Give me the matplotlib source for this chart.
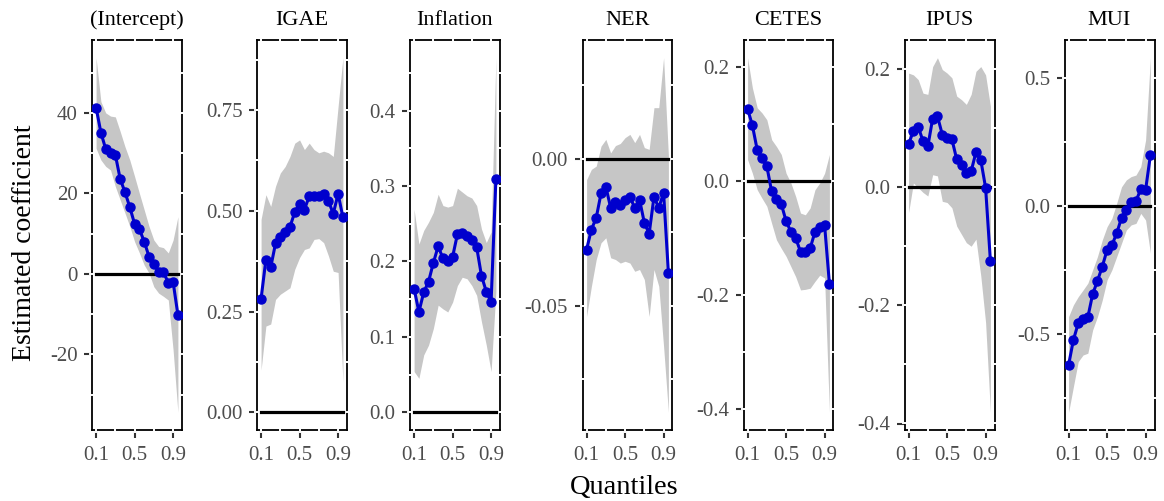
import numpy as np
import matplotlib
matplotlib.use("Agg")
import matplotlib.pyplot as plt

plt.rcParams['font.family'] = ['Liberation Serif', 'DejaVu Serif']
plt.rcParams['axes.unicode_minus'] = False

# quantiles used in every panel
taus = [0.10, 0.15, 0.20, 0.25, 0.30, 0.35, 0.40, 0.45, 0.50,
        0.55, 0.60, 0.65, 0.70, 0.75, 0.80, 0.85, 0.90, 0.95]

names = ["(Intercept)", "IGAE", "Inflation", "NER", "CETES", "IPUS", "MUI"]

# estimates, upper and lower bands
intercept_est = [41.3, 35.1, 31.0, 30.1, 29.6, 23.6, 20.3, 16.6, 12.4, 11.1, 8.0, 4.3, 2.5, 0.4, 0.4, -2.2, -2.0, -10.2]
intercept_hi = [53.7, 42.8, 40.0, 39.2, 39.0, 35.4, 31.6, 28.3, 24.2, 20.0, 15.9, 11.8, 8.4, 6.8, 6.5, 5.2, 8.4, 14.2]
intercept_lo = [31.2, 28.3, 26.7, 25.8, 21.7, 18.4, 15.1, 11.8, 8.0, 5.2, 2.2, 0.2, -3.2, -4.8, -5.6, -6.5, -18.9, -34.4]

igae_est = [0.282, 0.379, 0.360, 0.419, 0.436, 0.447, 0.460, 0.497, 0.518, 0.503, 0.536, 0.536, 0.538, 0.543, 0.524, 0.493, 0.542, 0.484]
igae_hi = [0.479, 0.540, 0.511, 0.561, 0.594, 0.610, 0.635, 0.668, 0.676, 0.652, 0.668, 0.652, 0.644, 0.648, 0.644, 0.635, 0.759, 0.880]
igae_lo = [0.105, 0.214, 0.219, 0.280, 0.293, 0.301, 0.309, 0.355, 0.384, 0.404, 0.408, 0.429, 0.431, 0.421, 0.388, 0.350, 0.347, 0.075]

infl_est = [0.164, 0.133, 0.159, 0.173, 0.198, 0.220, 0.204, 0.200, 0.206, 0.236, 0.238, 0.234, 0.229, 0.219, 0.181, 0.160, 0.146, 0.309]
infl_hi = [0.269, 0.223, 0.241, 0.252, 0.265, 0.289, 0.274, 0.272, 0.274, 0.297, 0.292, 0.287, 0.284, 0.274, 0.243, 0.225, 0.239, 0.470]
infl_lo = [0.054, 0.045, 0.076, 0.089, 0.111, 0.142, 0.137, 0.133, 0.146, 0.168, 0.179, 0.177, 0.168, 0.155, 0.120, 0.089, 0.054, 0.160]

ner_est = [-0.0309, -0.0241, -0.0201, -0.0118, -0.0095, -0.0167, -0.0148, -0.0156, -0.0139, -0.0130, -0.0167, -0.0139, -0.0218, -0.0255, -0.0130, -0.0167, -0.0116, -0.0389]
ner_hi = [-0.0071, -0.0036, -0.0025, 0.0043, 0.0066, 0.0020, 0.0045, 0.0052, 0.0072, 0.0083, 0.0055, 0.0083, 0.0038, 0.0032, 0.0174, 0.0174, 0.0344, 0.0010]
ner_lo = [-0.0537, -0.0434, -0.0343, -0.0286, -0.0269, -0.0337, -0.0343, -0.0355, -0.0349, -0.0355, -0.0383, -0.0377, -0.0411, -0.0537, -0.0377, -0.0434, -0.0639, -0.0863]

cetes_est = [0.127, 0.098, 0.055, 0.040, 0.026, -0.018, -0.031, -0.040, -0.070, -0.089, -0.100, -0.124, -0.125, -0.118, -0.089, -0.081, -0.077, -0.180]
cetes_hi = [0.217, 0.164, 0.129, 0.120, 0.108, 0.073, 0.061, 0.047, 0.014, -0.003, -0.027, -0.056, -0.059, -0.047, -0.015, -0.003, 0.014, 0.047]
cetes_lo = [0.038, 0.014, -0.015, -0.030, -0.044, -0.074, -0.103, -0.118, -0.132, -0.150, -0.168, -0.191, -0.190, -0.188, -0.176, -0.165, -0.170, -0.406]

ipus_est = [0.073, 0.095, 0.102, 0.078, 0.069, 0.116, 0.120, 0.089, 0.084, 0.081, 0.047, 0.038, 0.024, 0.027, 0.059, 0.046, -0.001, -0.125]
ipus_hi = [0.193, 0.190, 0.182, 0.159, 0.157, 0.204, 0.219, 0.199, 0.193, 0.185, 0.154, 0.148, 0.140, 0.157, 0.196, 0.204, 0.190, 0.137]
ipus_lo = [-0.043, 0.007, -0.001, -0.009, -0.015, 0.021, 0.019, -0.024, -0.026, -0.035, -0.066, -0.080, -0.094, -0.100, -0.088, -0.150, -0.229, -0.381]

mui_est = [-0.622, -0.524, -0.459, -0.443, -0.435, -0.345, -0.293, -0.237, -0.172, -0.153, -0.107, -0.046, -0.016, 0.017, 0.020, 0.065, 0.063, 0.199]
mui_hi = [-0.433, -0.387, -0.355, -0.329, -0.302, -0.250, -0.198, -0.133, -0.081, -0.048, 0.011, 0.075, 0.102, 0.115, 0.121, 0.154, 0.258, 0.580]
mui_lo = [-0.807, -0.707, -0.609, -0.583, -0.576, -0.485, -0.433, -0.368, -0.289, -0.250, -0.198, -0.146, -0.094, -0.074, -0.068, -0.029, -0.055, -0.185]

estimates = [intercept_est, igae_est, infl_est, ner_est, cetes_est, ipus_est, mui_est]
uppers = [intercept_hi, igae_hi, infl_hi, ner_hi, cetes_hi, ipus_hi, mui_hi]
lowers = [intercept_lo, igae_lo, infl_lo, ner_lo, cetes_lo, ipus_lo, mui_lo]

# y tick labels per panel
yticks = [[-20, 0, 20, 40],
          [0.0, 0.25, 0.5, 0.75],
          [0.0, 0.1, 0.2, 0.3, 0.4],
          [-0.05, 0.0],
          [-0.4, -0.2, 0.0, 0.2],
          [-0.4, -0.2, 0.0, 0.2],
          [-0.5, 0.0, 0.5]]
yfmt = ["{:.0f}", "{:.2f}", "{:.1f}", "{:.2f}", "{:.1f}", "{:.1f}", "{:.1f}"]
xticks = [0.1, 0.5, 0.9]
xminor = [0.3, 0.7]

W, H = 1164, 501
lefts = [92, 257, 410, 582.5, 743.5, 904.5, 1064.5]
pw, top, bottom = 90, 40, 430

blue = "#0000CD"
ribbon = "#C6C6C6"
tick_col = "#333333"
lab_col = "#4D4D4D"

fig = plt.figure(figsize=(W / 100, H / 100), dpi=100)

for i, name in enumerate(names):
    ax = fig.add_axes([lefts[i] / W, (H - bottom) / H, pw / W, (bottom - top) / H])
    ax.fill_between(taus, lowers[i], uppers[i], color=ribbon, lw=0, zorder=4)
    ax.plot(taus, [0] * len(taus), color="black", lw=2.3, zorder=5)
    ax.plot(taus, estimates[i], color=blue, lw=2.2, marker="o", ms=6.5, zorder=6)
    ax.margins(x=0.05, y=0.05)

    ax.set_xticks(xticks)
    ax.set_xticklabels([f"{t:g}" for t in xticks])
    ax.set_yticks(yticks[i])
    ax.set_yticklabels([yfmt[i].format(v) for v in yticks[i]])
    ax.tick_params(axis="both", which="major", direction="out", length=5.5, width=1.5,
                   color=tick_col, labelcolor=lab_col, labelsize=15, pad=5)
    ax.tick_params(axis="x", pad=6)
    for sp in ax.spines.values():
        sp.set_linewidth(1.3)
        sp.set_color("black")

    # white grid lines that cut the panel border, like the reference
    y0, y1 = ax.get_ylim()
    step = yticks[i][1] - yticks[i][0]
    ys = np.arange(yticks[i][0] - 4 * step, yticks[i][-1] + 4 * step, step / 2)
    ys = ys[(ys > y0) & (ys < y1)]
    for y in ys:
        ax.plot([-0.02, 1.02], [y, y], transform=ax.get_yaxis_transform(),
                color="white", lw=1.4, zorder=3, clip_on=False)
    for x in xticks + xminor:
        ax.plot([x, x], [-0.006, 1.006], transform=ax.get_xaxis_transform(),
                color="white", lw=1.4, zorder=3, clip_on=False)
    ax.set_ylim(y0, y1)

    ax.set_title(name, fontsize=16, pad=11, color="black")

fig.text(25 / W, 1 - 243 / H, "Estimated coefficient", rotation=90,
         ha="center", va="center", fontsize=20)
fig.text(624 / W, 1 - 487 / H, "Quantiles", ha="center", va="center", fontsize=20.5)

fig.savefig("out.png", dpi=100)
